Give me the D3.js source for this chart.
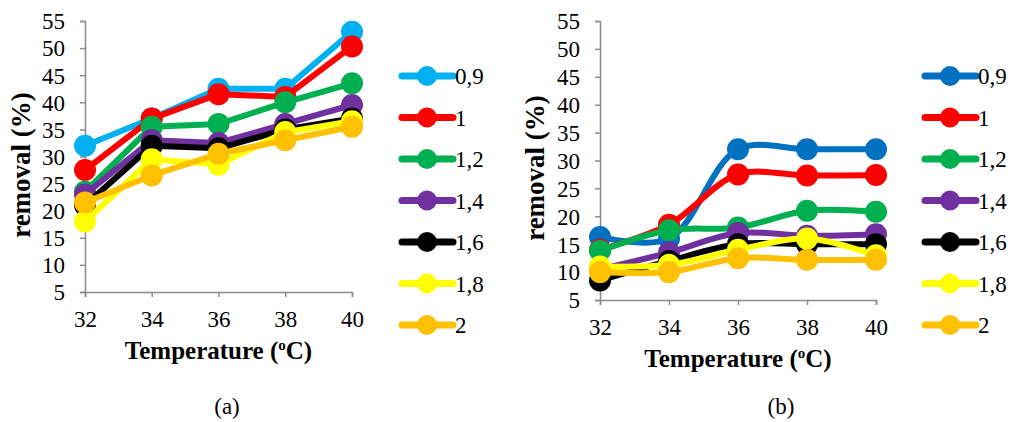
<!DOCTYPE html>
<html>
<head>
<meta charset="utf-8">
<script src="https://cdn.jsdelivr.net/npm/d3@7"></script>
<style>
  html, body { margin: 0; padding: 0; background: #fff; }
  svg text { font-family: "Times New Roman", "Liberation Serif", Tinos, serif !important; }
</style>
</head>
<body>
<svg id="chart" width="1011" height="422"></svg>
<script>
// Temperature levels (x axis)
const temperatures = [32, 34, 36, 38, 40];
const yTicks = [5, 10, 15, 20, 25, 30, 35, 40, 45, 50, 55];
const seriesLabels = ["0,9", "1", "1,2", "1,4", "1,6", "1,8", "2"];

// Panel (a): removal (%) per series
const a_09 = [32, 37, 42.5, 42.5, 53];
const a_10 = [27.5, 37, 41.5, 41, 50.3];
const a_12 = [23.5, 35.5, 36, 40, 43.5];
const a_14 = [23, 33, 32.5, 36, 39.5];
const a_16 = [21, 32, 31.5, 35, 37];
const a_18 = [18, 29.5, 28.5, 34.5, 36.5];
const a_20 = [21.5, 26.5, 30.5, 33, 35.5];

// Panel (b): removal (%) per series
const b_09 = [16.3, 16, 32, 32, 32];
const b_10 = [14, 18.5, 27.5, 27.3, 27.4];
const b_12 = [13.8, 17.5, 18, 21, 20.8];
const b_14 = [10.5, 13.5, 17, 16.5, 16.8];
const b_16 = [8.5, 12, 15, 15, 15];
const b_18 = [11, 11.3, 14, 16, 13];
const b_20 = [10, 10, 12.5, 12.2, 12.2];

const colorsA = ["#00B0F0", "#FF0000", "#00B050", "#7030A0", "#000000", "#FFFF00", "#FFC000"];
const colorsB = ["#0070C0", "#FF0000", "#00B050", "#7030A0", "#000000", "#FFFF00", "#FFC000"];

const FONT = "'Times New Roman', 'Liberation Serif', Tinos, serif";
const svg = d3.select("#chart");

function drawPanel(p) {
  const x = d3.scaleLinear().domain([32, 40]).range([p.x0, p.x1]);
  const y = d3.scaleLinear().domain([5, 55]).range([p.y0, p.y1]);
  const g = svg.append("g");

  // y axis
  const yAxis = d3.axisLeft(y).tickValues(yTicks).tickSize(5).tickPadding(15);
  const ya = g.append("g").attr("transform", `translate(${p.x0},0)`).call(yAxis);
  // x axis
  const xAxis = d3.axisBottom(x).tickValues(temperatures).tickSize(5).tickPadding(14);
  const xa = g.append("g").attr("transform", `translate(0,${p.y0})`).call(xAxis);
  [ya, xa].forEach(a => {
    a.attr("font-family", FONT).attr("font-size", 23);
    a.select(".domain").attr("stroke", "#8c8c8c").attr("stroke-width", 1.5);
    a.selectAll(".tick line").attr("stroke", "#8c8c8c").attr("stroke-width", 1.5);
    a.selectAll(".tick text").attr("fill", "#000");
  });
  ya.selectAll(".tick text").attr("dy", "0.34em");

  const line = d3.line()
    .x((d, i) => x(temperatures[i]))
    .y(d => y(d))
    .curve(p.curve);

  p.series.forEach((vals, k) => {
    const c = p.colors[k];
    g.append("path").datum(vals)
      .attr("d", line)
      .attr("fill", "none")
      .attr("stroke", c)
      .attr("stroke-width", 6)
      .attr("stroke-linejoin", "round")
      .attr("stroke-linecap", "round");
    g.selectAll(null).data(vals).enter().append("circle")
      .attr("cx", (d, i) => x(temperatures[i]))
      .attr("cy", d => y(d))
      .attr("r", 11)
      .attr("fill", c);
  });

  // axis titles
  g.append("text")
    .attr("transform", `translate(${p.yTitleX},${p.yTitleY}) rotate(-90)`)
    .attr("text-anchor", "middle")
    .attr("dy", "0.35em")
    .attr("font-family", FONT).attr("font-size", 27).attr("font-weight", "bold")
    .text("removal (%)");

  const xt = g.append("text")
    .attr("x", (p.x0 + p.x1) / 2)
    .attr("y", p.xTitleBase)
    .attr("text-anchor", "middle")
    .attr("font-family", FONT).attr("font-size", 25).attr("font-weight", "bold");
  xt.append("tspan").text("Temperature (");
  xt.append("tspan").attr("dy", -9).attr("font-size", 15).text("o");
  xt.append("tspan").attr("dy", 9).text("C)");

  // panel letter
  g.append("text")
    .attr("x", p.letterX).attr("y", p.letterBase)
    .attr("text-anchor", "middle")
    .attr("font-family", FONT).attr("font-size", 23)
    .text(p.letter);

  // legend
  const leg = g.append("g");
  seriesLabels.forEach((lab, k) => {
    const ly = p.legY0 + k * p.legStep;
    leg.append("line")
      .attr("x1", p.legX).attr("x2", p.legX + 51)
      .attr("y1", ly).attr("y2", ly)
      .attr("stroke", p.colors[k]).attr("stroke-width", 7)
      .attr("stroke-linecap", "round");
    leg.append("circle")
      .attr("cx", p.legX + 25).attr("cy", ly).attr("r", 10)
      .attr("fill", p.colors[k]);
    leg.append("text")
      .attr("x", p.legX + 53).attr("y", ly)
      .attr("dy", "0.35em")
      .attr("font-family", FONT).attr("font-size", 23)
      .text(lab);
  });
}

drawPanel({
  x0: 85, x1: 352, y0: 292, y1: 21,
  series: [a_09, a_10, a_12, a_14, a_16, a_18, a_20],
  colors: colorsA,
  curve: d3.curveLinear,
  yTitleX: 21, yTitleY: 165, xTitleBase: 359,
  letter: "(a)", letterX: 227, letterBase: 414,
  legX: 402, legY0: 76, legStep: 41.5
});

drawPanel({
  x0: 600, x1: 876, y0: 300, y1: 21,
  series: [b_09, b_10, b_12, b_14, b_16, b_18, b_20],
  colors: colorsB,
  curve: d3.curveCatmullRom.alpha(0.5),
  yTitleX: 535, yTitleY: 168, xTitleBase: 367,
  letter: "(b)", letterX: 781, letterBase: 414,
  legX: 925, legY0: 76, legStep: 41.5
});
</script>
</body>
</html>
